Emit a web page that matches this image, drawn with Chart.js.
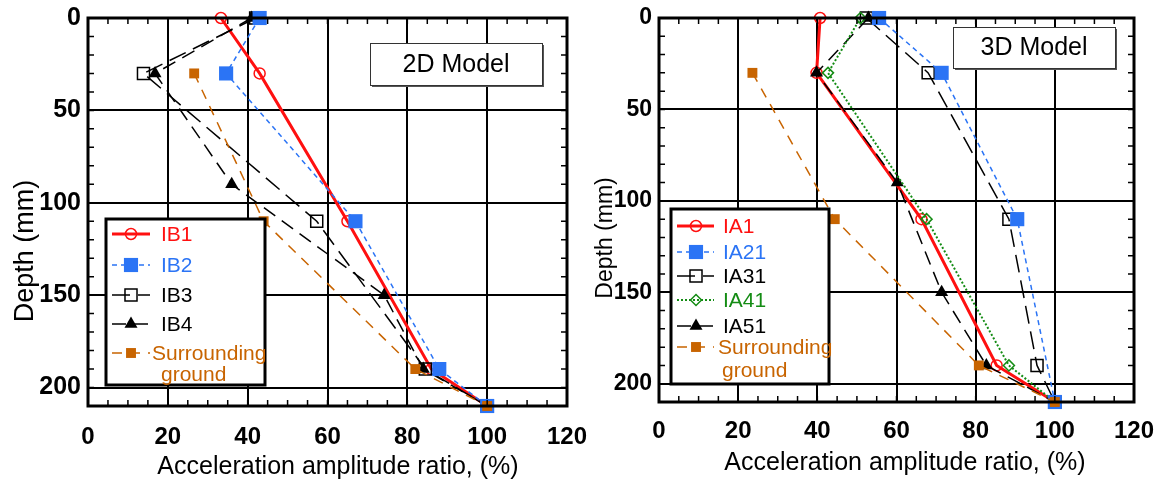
<!DOCTYPE html>
<html>
<head>
<meta charset="utf-8">
<title>Acceleration amplitude ratio vs depth</title>
<script src="https://cdn.jsdelivr.net/npm/chart.js@4.4.0/dist/chart.umd.min.js"></script>
<style>
    html, body { margin: 0; padding: 0; background: #fff; }
    #wrap { position: relative; width: 1168px; height: 486px; overflow: hidden; }
    canvas { position: absolute; top: 0; }
    #chart2D { left: 0; }
    #chart3D { left: 580px; }
</style>
</head>
<body>
<div id="wrap">
    <canvas id="chart2D" width="610" height="486"></canvas>
    <canvas id="chart3D" width="588" height="486"></canvas>
</div>
<script>
'use strict';

// ---- data (x = acceleration amplitude ratio %, y = depth mm) ----
var xTicks = [0, 20, 40, 60, 80, 100, 120];
var yTicks = [0, 50, 100, 150, 200];

// 2D model
var ib1Depth = [0, 30, 110, 190, 210];
var ib1Ratio = [33.3, 43, 65, 86, 100];
var ib2Depth = [0, 30, 110, 190, 210];
var ib2Ratio = [43, 34.6, 67, 88, 100];
var ib3Depth = [0, 30, 110, 190, 210];
var ib3Ratio = [42, 13.9, 57.3, 84.5, 100];
var ib4Depth = [0, 30, 90, 150, 190, 210];
var ib4Ratio = [41, 16.8, 36, 74.2, 84, 100];
var ground2DDepth = [30, 110, 190, 210];
var ground2DRatio = [26.6, 44, 82, 100];

// 3D model
var ia1Depth = [0, 30, 110, 190, 210];
var ia1Ratio = [40.7, 39.8, 66.3, 85.3, 100];
var ia21Depth = [0, 30, 110, 210];
var ia21Ratio = [55.6, 71.4, 90.5, 100];
var ia31Depth = [0, 30, 110, 190, 210];
var ia31Ratio = [52.4, 68, 88.4, 95.5, 100];
var ia41Depth = [0, 30, 110, 190, 210];
var ia41Ratio = [50.9, 42.7, 67.6, 88.4, 100];
var ia51Depth = [0, 30, 90, 150, 190, 210];
var ia51Ratio = [52.9, 39.8, 60.2, 71.4, 82.7, 100];
var ground3DDepth = [30, 110, 190, 210];
var ground3DRatio = [23.6, 44.4, 80.8, 100];

var FONT = "'Liberation Sans', Arial, sans-serif";

var styles = {
    red:    { color: '#ff1010', width: 3,   dash: [],      marker: 'circle',   radius: 5.5, fill: false, pointBorder: 1.5, order: 5 },
    blue:   { color: '#2b74f5', width: 1.5, dash: [5, 4],  marker: 'rect',     radius: 10,  fill: true,  pointBorder: 0,   order: 1 },
    blackA: { color: '#000000', width: 1.5, dash: [18, 8], marker: 'rect',     radius: 8.5, fill: false, pointBorder: 1.5, order: 3 },
    blackB: { color: '#000000', width: 1.5, dash: [14, 8], marker: 'triangle', radius: 7.5, fill: true,  pointBorder: 0,   order: 4 },
    green:  { color: '#148c14', width: 2,   dash: [2, 2],  marker: 'rectRot',  radius: 5.5, fill: false, pointBorder: 1.5, order: 2 },
    brown:  { color: '#c86400', width: 1.5, dash: [10, 8], marker: 'rect',     radius: 7,   fill: true,  pointBorder: 0,   order: 0 }
};

function makeDataset(label, ratios, depths, style) {
    return {
        label: label,
        data: ratios.map(function (r, i) { return { x: r, y: depths[i] }; }),
        showLine: true,
        borderColor: style.color,
        borderWidth: style.width,
        borderDash: style.dash,
        pointStyle: style.marker,
        pointRadius: style.radius,
        pointHoverRadius: style.radius,
        pointBackgroundColor: style.fill ? style.color : 'rgba(255,255,255,0)',
        pointBorderColor: style.color,
        pointBorderWidth: style.pointBorder,
        tension: 0,
        clip: false,
        order: style.order
    };
}

function drawMarker(ctx, ds, x, y) {
    ctx.setLineDash([]);
    ctx.fillStyle = ds.pointBackgroundColor;
    ctx.strokeStyle = ds.pointBorderColor;
    ctx.lineWidth = ds.pointBorderWidth;
    Chart.helpers.drawPoint(ctx, {
        pointStyle: ds.pointStyle,
        radius: ds.pointRadius,
        rotation: 0,
        borderWidth: ds.pointBorderWidth
    }, x, y);
}

var decorPlugin = {
    id: 'decor',
    afterDatasetsDraw: function (chart, args, opts) {
        var ctx = chart.ctx;
        var area = chart.chartArea;
        var xs = chart.scales.x;
        var ys = chart.scales.y;
        var v, p;

        ctx.save();

        // inward minor ticks on all four sides
        ctx.strokeStyle = '#000';
        ctx.lineWidth = 1.5;
        ctx.setLineDash([]);
        ctx.beginPath();
        for (v = 0; v <= 120; v += 5) {
            p = xs.getPixelForValue(v);
            ctx.moveTo(p, area.bottom); ctx.lineTo(p, area.bottom - 6);
            ctx.moveTo(p, area.top); ctx.lineTo(p, area.top + 6);
        }
        for (v = 0; v <= 210; v += 10) {
            p = ys.getPixelForValue(v);
            ctx.moveTo(area.left, p); ctx.lineTo(area.left + 6, p);
            ctx.moveTo(area.right, p); ctx.lineTo(area.right - 6, p);
        }
        ctx.stroke();

        // frame
        ctx.lineWidth = 3;
        ctx.strokeRect(area.left, area.top, area.right - area.left, area.bottom - area.top);

        // model tag
        var tag = opts.tag;
        ctx.fillStyle = '#555';
        ctx.fillRect(tag.x + 2, tag.y + 2, tag.w, tag.h);
        ctx.fillStyle = '#fff';
        ctx.fillRect(tag.x, tag.y, tag.w, tag.h);
        ctx.lineWidth = 1;
        ctx.strokeStyle = '#333';
        ctx.strokeRect(tag.x + 0.5, tag.y + 0.5, tag.w, tag.h);
        ctx.fillStyle = '#000';
        ctx.font = '25px ' + FONT;
        ctx.textAlign = 'center';
        ctx.textBaseline = 'middle';
        ctx.fillText(tag.text, tag.x + tag.w / 2, tag.y + tag.h / 2 + 1);

        // legend
        var lg = opts.legend;
        ctx.fillStyle = '#fff';
        ctx.fillRect(lg.x, lg.y, lg.w, lg.h);
        ctx.lineWidth = 3;
        ctx.strokeStyle = '#000';
        ctx.strokeRect(lg.x, lg.y, lg.w, lg.h);
        ctx.font = '21px ' + FONT;
        ctx.textAlign = 'left';
        chart.data.datasets.forEach(function (ds, k) {
            var rowY = lg.rows[k];
            ctx.strokeStyle = ds.borderColor;
            ctx.lineWidth = ds.borderWidth;
            ctx.setLineDash(ds.borderDash);
            ctx.beginPath();
            ctx.moveTo(lg.lineX[0], rowY);
            ctx.lineTo(lg.lineX[1], rowY);
            ctx.stroke();
            drawMarker(ctx, ds, lg.markerX, rowY);
            ctx.fillStyle = ds.borderColor;
            var lines = ds.label.split('\n');
            if (lines.length === 1) {
                ctx.fillText(lines[0], lg.textX, rowY + 1);
            } else {
                ctx.fillText(lines[0], lg.wrapX[0], rowY + 1);
                ctx.fillText(lines[1], lg.wrapX[1], rowY + lg.wrapGap + 1);
            }
        });

        // axis titles
        ctx.fillStyle = '#000';
        ctx.textAlign = 'center';
        ctx.font = opts.xTitle.size + 'px ' + FONT;
        ctx.fillText('Acceleration amplitude ratio, (%)', opts.xTitle.x, opts.xTitle.y);
        ctx.save();
        ctx.translate(opts.yTitle.x, opts.yTitle.y);
        ctx.rotate(-Math.PI / 2);
        ctx.font = opts.yTitle.size + 'px ' + FONT;
        ctx.fillText('Depth (mm)', 0, 0);
        ctx.restore();

        ctx.restore();
    }
};

function makeChart(canvasId, datasets, layout) {
    return new Chart(document.getElementById(canvasId), {
        type: 'scatter',
        data: { datasets: datasets },
        plugins: [decorPlugin],
        options: {
            responsive: false,
            animation: false,
            events: [],
            layout: { padding: { left: 0, right: layout.padRight, top: 18, bottom: 0 } },
            plugins: {
                legend: { display: false },
                tooltip: { enabled: false },
                decor: layout.decor
            },
            scales: {
                x: {
                    type: 'linear',
                    min: xTicks[0],
                    max: xTicks[xTicks.length - 1],
                    afterBuildTicks: function (scale) {
                        scale.ticks = xTicks.map(function (v) { return { value: v }; });
                    },
                    ticks: { color: '#000', padding: layout.xTickPad, font: { family: FONT, size: 24, weight: 'bold' } },
                    grid: { color: '#000', lineWidth: 2, drawTicks: false },
                    border: { display: false },
                    afterFit: function (scale) {
                        scale.height = layout.xHeight;
                        scale.paddingLeft = 0; scale.paddingRight = 0;
                    }
                },
                y: {
                    type: 'linear',
                    reverse: true,
                    min: 0,
                    max: 210,
                    afterBuildTicks: function (scale) {
                        scale.ticks = yTicks.map(function (v) { return { value: v }; });
                    },
                    ticks: { color: '#000', padding: 7, font: { family: FONT, size: layout.yTickSize, weight: 'bold' } },
                    grid: { color: '#000', lineWidth: 2, drawTicks: false },
                    border: { display: false },
                    afterFit: function (scale) {
                        scale.width = layout.yWidth;
                        scale.paddingTop = 0; scale.paddingBottom = 0;
                    }
                }
            }
        }
    });
}

makeChart('chart2D', [
    makeDataset('IB1', ib1Ratio, ib1Depth, styles.red),
    makeDataset('IB2', ib2Ratio, ib2Depth, styles.blue),
    makeDataset('IB3', ib3Ratio, ib3Depth, styles.blackA),
    makeDataset('IB4', ib4Ratio, ib4Depth, styles.blackB),
    makeDataset('Surrounding\nground', ground2DRatio, ground2DDepth, styles.brown)
], {
    padRight: 43, xHeight: 80, yWidth: 88, xTickPad: 17, yTickSize: 25,
    decor: {
        tag: { text: '2D Model', x: 370, y: 43, w: 172, h: 42 },
        legend: {
            x: 106, y: 219, w: 159, h: 166,
            rows: [234, 265, 295, 324, 353],
            lineX: [112, 150], markerX: 131, textX: 161,
            wrapX: [152, 161], wrapGap: 21
        },
        xTitle: { x: 338, y: 467, size: 25 },
        yTitle: { x: 26, y: 251, size: 27 }
    }
});

makeChart('chart3D', [
    makeDataset('IA1', ia1Ratio, ia1Depth, styles.red),
    makeDataset('IA21', ia21Ratio, ia21Depth, styles.blue),
    makeDataset('IA31', ia31Ratio, ia31Depth, styles.blackA),
    makeDataset('IA41', ia41Ratio, ia41Depth, styles.green),
    makeDataset('IA51', ia51Ratio, ia51Depth, styles.blackB),
    makeDataset('Surrounding\nground', ground3DRatio, ground3DDepth, styles.brown)
], {
    padRight: 34, xHeight: 84, yWidth: 79, xTickPad: 15, yTickSize: 23,
    decor: {
        tag: { text: '3D Model', x: 373, y: 27, w: 162, h: 41 },
        legend: {
            x: 91, y: 209, w: 158, h: 175,
            rows: [226, 252, 276, 300, 326, 347],
            lineX: [97, 134], markerX: 116, textX: 143,
            wrapX: [138, 142], wrapGap: 23
        },
        xTitle: { x: 325, y: 463, size: 25 },
        yTitle: { x: 26, y: 238, size: 23 }
    }
});
</script>
</body>
</html>
